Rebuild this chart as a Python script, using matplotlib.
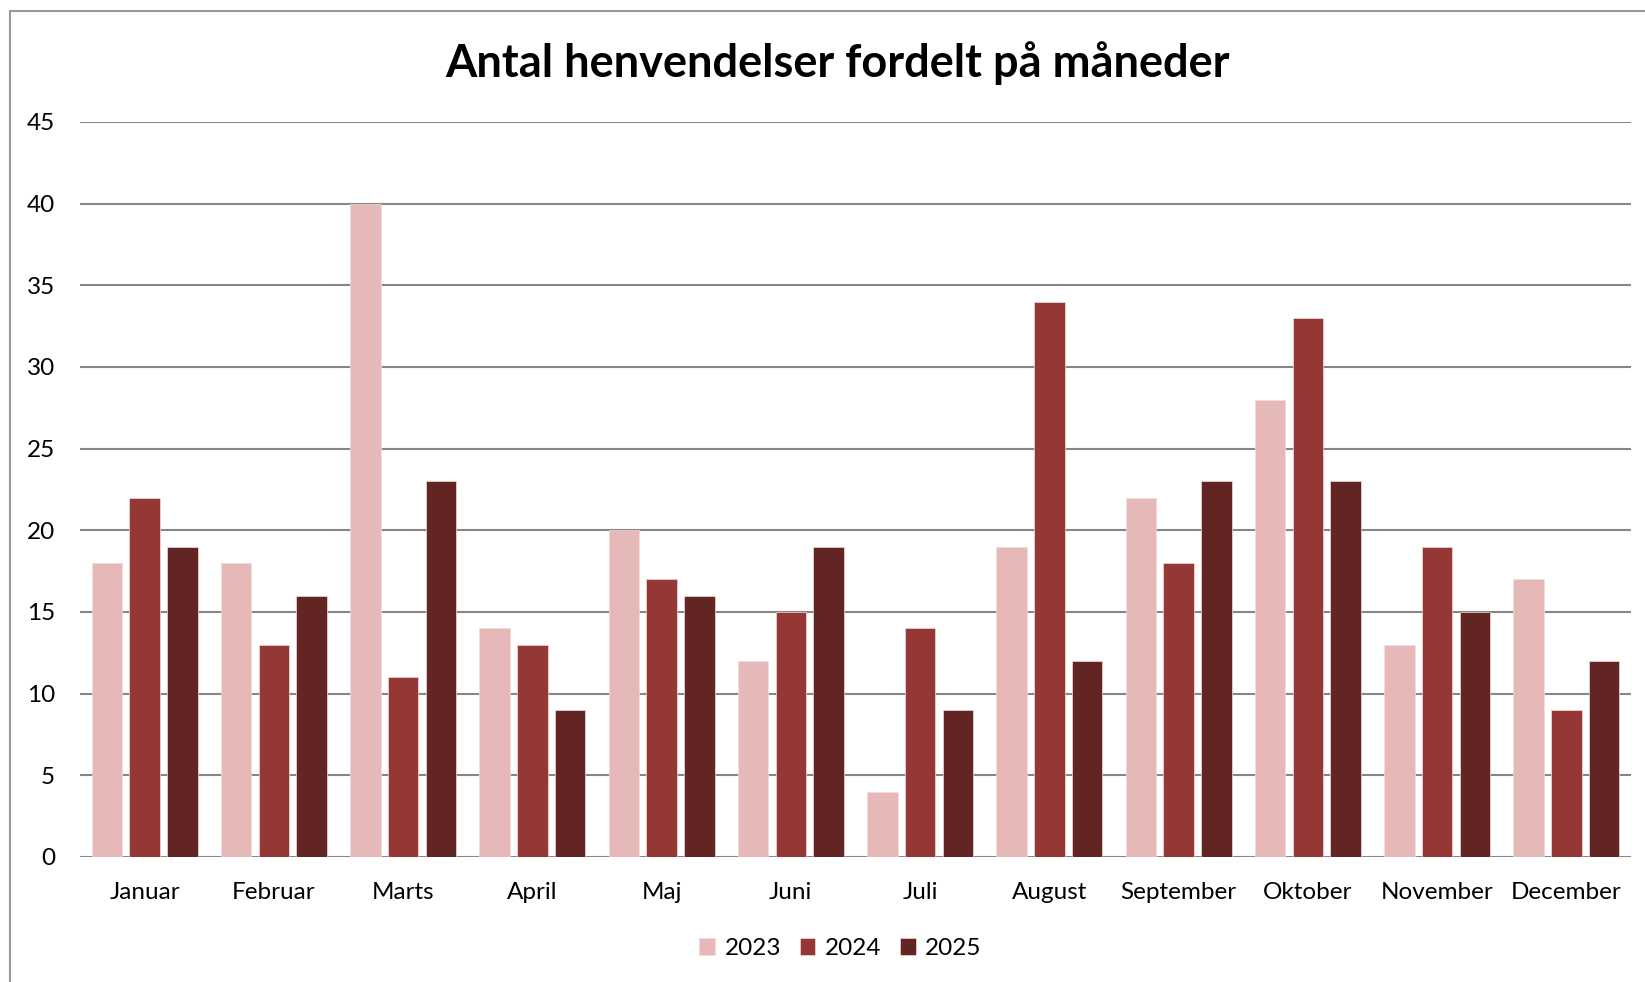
import numpy as np
import matplotlib.pyplot as plt
from matplotlib.patches import Rectangle

# ====== data ======
MONTHS = ["Januar", "Februar", "Marts", "April", "Maj", "Juni",
          "Juli", "August", "September", "Oktober", "November", "December"]
YEARS = ["2023", "2024", "2025"]
V2023 = [18, 18, 40, 14, 20, 12, 4, 19, 22, 28, 13, 17]
V2024 = [22, 13, 11, 13, 17, 15, 14, 34, 18, 33, 19, 9]
V2025 = [19, 16, 23, 9, 16, 19, 9, 12, 23, 23, 15, 12]
COLORS = ["#E6B9B8", "#953735", "#632523"]
# ==================

plt.rcParams["font.family"] = ["Lato", "DejaVu Sans"]

fig = plt.figure(figsize=(16.45, 9.82), dpi=100)
ax = fig.add_axes([0.0486, 0.1273, 0.9429, 0.7485])

# outer chart border (only top/left visible in the reference)
fig.patches.append(Rectangle((0.006, -0.05), 1.1, 1.039, transform=fig.transFigure,
                             fill=False, edgecolor="#9a9a9a", linewidth=1.5))

x = np.arange(len(MONTHS))
width = 0.235
step = 0.292
for i, (vals, year) in enumerate(zip([V2023, V2024, V2025], YEARS)):
    ax.bar(x + (i - 1) * step, vals, width, color=COLORS[i], label=year,
           edgecolor="#f3dcdc", linewidth=0.5, zorder=3)

ax.set_xlim(-0.5, len(MONTHS) - 0.5)
ax.set_ylim(0, 45)
ax.set_yticks(range(0, 46, 5))
ax.set_xticks(x)
ax.set_xticklabels(MONTHS)
ax.tick_params(axis="both", length=0, labelsize=17.5, colors="black")
ax.tick_params(axis="x", pad=18)
ax.tick_params(axis="y", pad=18)

ax.grid(axis="y", color="#868686", linewidth=1.5, zorder=0)
for s in ax.spines.values():
    s.set_visible(False)

fig.text(0.509, 0.936, "Antal henvendelser fordelt på måneder",
         ha="center", va="center", fontsize=32.5, fontweight="bold")

fig.legend(loc="center", bbox_to_anchor=(0.511, 0.034), ncol=3, frameon=False,
           fontsize=17.5, handlelength=0.65, handleheight=0.65, handletextpad=0.4,
           columnspacing=0.75)

fig.savefig("out.png", dpi=100)
